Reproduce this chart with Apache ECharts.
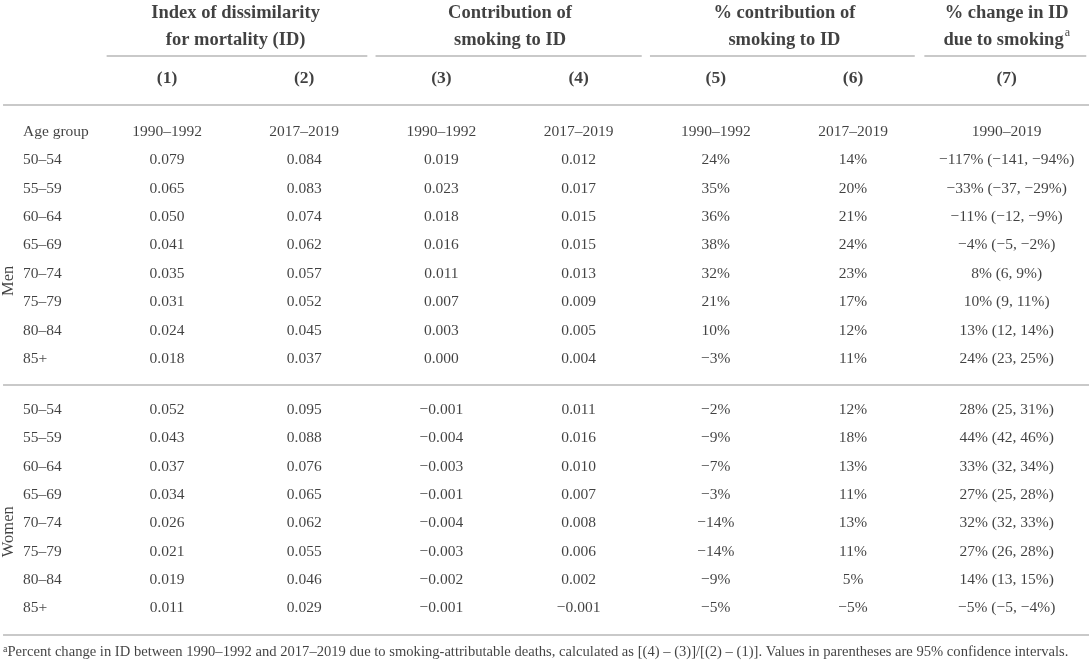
<!DOCTYPE html>
<html>
<head>
<meta charset="utf-8">
<script src="https://cdn.jsdelivr.net/npm/echarts@6/dist/echarts.min.js"></script>
<style>
html,body{margin:0;padding:0;background:#fff;}
#chart{width:1089px;height:663px;}
</style>
</head>
<body>
<div id="chart"></div>
<script>
// ---------- DATA ----------
const ageGroups = ['50–54','55–59','60–64','65–69','70–74','75–79','80–84','85+'];
const sexes = ['Men','Women'];
const groupTitles = ['Index of dissimilarity\nfor mortality (ID)','Contribution of\nsmoking to ID','% contribution of\nsmoking to ID','% change in ID\ndue to smoking'];
const colNumbers = ['(1)','(2)','(3)','(4)','(5)','(6)','(7)'];
const periods = ['1990–1992','2017–2019','1990–1992','2017–2019','1990–1992','2017–2019','1990–2019'];
const rowHeader = 'Age group';

const menId1990 = [0.079,0.065,0.050,0.041,0.035,0.031,0.024,0.018];
const menId2017 = [0.084,0.083,0.074,0.062,0.057,0.052,0.045,0.037];
const menSm1990 = [0.019,0.023,0.018,0.016,0.011,0.007,0.003,0.000];
const menSm2017 = [0.012,0.017,0.015,0.015,0.013,0.009,0.005,0.004];
const menPct1990 = [24,35,36,38,32,21,10,-3];
const menPct2017 = [14,20,21,24,23,17,12,11];
const menChange = [-117,-33,-11,-4,8,10,13,24];
const menChangeLo = [-141,-37,-12,-5,6,9,12,23];
const menChangeHi = [-94,-29,-9,-2,9,11,14,25];

const womenId1990 = [0.052,0.043,0.037,0.034,0.026,0.021,0.019,0.011];
const womenId2017 = [0.095,0.088,0.076,0.065,0.062,0.055,0.046,0.029];
const womenSm1990 = [-0.001,-0.004,-0.003,-0.001,-0.004,-0.003,-0.002,-0.001];
const womenSm2017 = [0.011,0.016,0.010,0.007,0.008,0.006,0.002,-0.001];
const womenPct1990 = [-2,-9,-7,-3,-14,-14,-9,-5];
const womenPct2017 = [12,18,13,11,13,11,5,-5];
const womenChange = [28,44,33,27,32,27,14,-5];
const womenChangeLo = [25,42,32,25,32,26,13,-5];
const womenChangeHi = [31,46,34,28,33,28,15,-4];

const footnote = 'Percent change in ID between 1990–1992 and 2017–2019 due to smoking-attributable deaths, calculated as [(4) – (3)]/[(2) – (1)]. Values in parentheses are 95% confidence intervals.';

// ---------- LAYOUT (axis units: columns / rows) ----------
const colPos = [1,2,3,4,5,6,7.12];
const groupPos = [1.5,3.5,5.5,7.12];
const ageColX = -0.05;
const sexLabelX = -0.157;
const xMin = -0.2172, xMax = 7.72;
const yMin = -4.656, yMax = 18.73;
const rowTitle = -3.7, rowNum = -1.87, rowPeriod = 0;
const menStart = 1, womenStart = 9.8;
const sexLabelY = [5.25, 14.1];
const ruleRows = [-0.952, 8.924, 17.74];
const underlineRow = -2.7;
const underlines = [[0.56,2.46],[2.52,4.46],[4.52,6.45],[6.52,7.70]];
const footRow = 18.34;
const ruleX = [-0.195, 7.73];

const TXT = '#111';
const FONT = '"Liberation Serif", "Times New Roman", serif';
const RULE = '#c9c9c9';

// ---------- helpers ----------
const minus = s => String(s).replace('-', '−');
const f3 = v => minus(v.toFixed(3));
const pc = v => minus(v + '%');
const chg = (v, lo, hi) => minus(v + '%') + ' (' + minus(lo) + ', ' + minus(hi + '%') + ')';

function textSeries(items, opts) {
  return {
    type: 'scatter',
    symbolSize: 0,
    silent: true,
    z: 5,
    itemStyle: {color: 'transparent'},
    data: items.map(it => ({name: it[2], value: [it[0], it[1]]})),
    label: Object.assign({
      show: true,
      position: 'inside',
      formatter: '{b}',
      color: TXT,
      fontFamily: FONT,
      fontSize: 15.5,
      align: 'center',
      verticalAlign: 'middle'
    }, opts || {})
  };
}

const sexData = [
  [menId1990, menId2017, menSm1990, menSm2017, menPct1990, menPct2017, [menChange, menChangeLo, menChangeHi]],
  [womenId1990, womenId2017, womenSm1990, womenSm2017, womenPct1990, womenPct2017, [womenChange, womenChangeLo, womenChangeHi]]
];

const series = [];
// group titles
series.push(textSeries(groupTitles.map((t, i) => [groupPos[i], rowTitle, t]), {
  fontWeight: 'bold', fontSize: 18.5, lineHeight: 27,
  formatter: p => p.dataIndex === 3 ? '% change in ID\ndue to smoking{sup|a}' : p.name,
  rich: {sup: {fontSize: 12, fontWeight: 'normal', fontFamily: FONT, color: TXT, verticalAlign: 'top', lineHeight: 27, padding: [0,0,7,1]}}
}));
// column numbers
series.push(textSeries(colNumbers.map((t, i) => [colPos[i], rowNum, t]), {fontWeight: 'bold', fontSize: 17.5}));
// periods
series.push(textSeries(periods.map((t, i) => [colPos[i], rowPeriod, t])));
series.push(textSeries([[ageColX, rowPeriod, rowHeader]], {align: 'left'}));
// age labels and values
sexes.forEach((s, si) => {
  const start = si === 0 ? menStart : womenStart;
  series.push(textSeries(ageGroups.map((a, i) => [ageColX, start + i, a]), {align: 'left'}));
  const d = sexData[si];
  const cols = [d[0].map(f3), d[1].map(f3), d[2].map(f3), d[3].map(f3), d[4].map(pc), d[5].map(pc),
    d[6][0].map((v, i) => chg(v, d[6][1][i], d[6][2][i]))];
  cols.forEach((c, ci) => {
    series.push(textSeries(c.map((t, i) => [colPos[ci], start + i, t])));
  });
});
// sex labels (rotated)
series.push(textSeries(sexes.map((s, i) => [sexLabelX, sexLabelY[i], s]), {rotate: 90, fontSize: 16.5}));
// footnote
series.push(textSeries([[ruleX[0], footRow, footnote]], {
  align: 'left', fontSize: 14.6,
  formatter: '{sup|a}{b}',
  rich: {sup: {fontSize: 10, fontFamily: FONT, color: TXT, verticalAlign: 'top', padding: [0,0,5,0]}}
}));

// rules
const ruleData = ruleRows.map(r => ({coords: [[ruleX[0], r], [ruleX[1], r]]}))
  .concat(underlines.map(u => ({coords: [[u[0], underlineRow], [u[1], underlineRow]]})));
series.push({
  type: 'lines',
  coordinateSystem: 'cartesian2d',
  silent: true,
  z: 1,
  lineStyle: {color: RULE, width: 2, opacity: 1},
  data: ruleData
});

const chart = echarts.init(document.getElementById('chart'), null, {renderer: 'canvas'});
chart.setOption({
  animation: false,
  backgroundColor: '#fff',
  grid: {left: 0, right: 0, top: 0, bottom: 0},
  xAxis: {type: 'value', min: xMin, max: xMax, show: false},
  yAxis: {type: 'value', min: yMin, max: yMax, inverse: true, show: false},
  series: series
});
</script>
</body>
</html>
